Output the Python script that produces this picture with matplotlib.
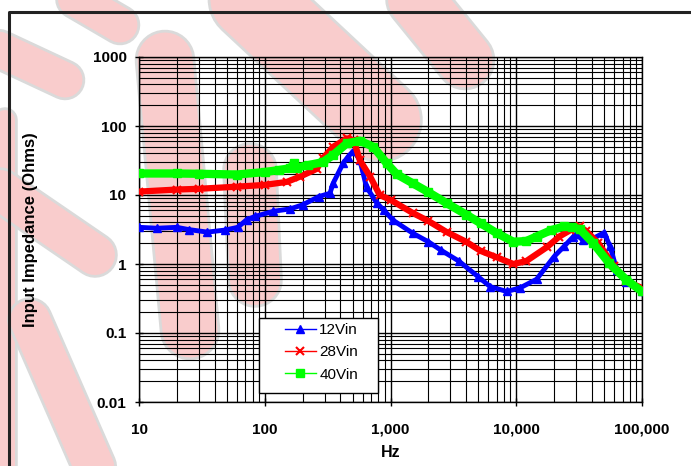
import matplotlib.pyplot as plt
import matplotlib.patheffects as pe
from matplotlib.lines import Line2D
from matplotlib.patches import Rectangle
from matplotlib.ticker import LogLocator, NullFormatter

plt.rcParams['font.family'] = ['Liberation Sans', 'DejaVu Sans']

# values (Hz, Ohms)
f_12 = [10, 14, 20, 25, 35, 48, 61, 72, 84, 117, 160, 200, 270, 330, 350, 420, 460,
        510, 570, 645, 780, 880, 1050, 1500, 2000, 2500, 3500, 5000, 6200, 8400,
        10700, 14500, 20000, 24000, 28500, 30000, 34000, 40000, 50000, 55700,
        63000, 75000, 100000]
z_12 = [3.4, 3.3, 3.4, 3.15, 2.9, 3.1, 3.4, 4.4, 4.9, 5.8, 6.3, 7.2, 9.5, 10.6, 14.8,
        28.8, 36, 44, 32, 13, 7.6, 6.1, 4.3, 2.8, 2.1, 1.6, 1.1, 0.65, 0.47, 0.40,
        0.45, 0.6, 1.28, 1.8, 2.5, 2.7, 2.2, 2.3, 2.85, 1.8, 0.82, 0.55, 0.41]

f_28 = [10, 20, 30, 60, 100, 150, 190, 260, 290, 350, 450, 510, 570, 690, 820, 1000,
        1500, 2000, 2800, 4000, 5200, 7000, 9500, 12000, 17500, 22000, 27000, 32000,
        36000, 45000, 60000, 75000, 100000]
z_28 = [11.2, 12, 12.3, 13.2, 14, 15.5, 18.4, 24, 34, 50, 66, 62, 32, 18.4, 10, 8.5,
        5.5, 4.2, 2.9, 2.1, 1.55, 1.25, 1.0, 1.1, 1.75, 2.5, 3.1, 3.5, 3.0, 2.0, 0.93,
        0.56, 0.45]

f_40 = [10, 20, 30, 60, 100, 130, 160, 170, 180, 220, 290, 350, 450, 570, 730, 930,
        1120, 1500, 2000, 2800, 4000, 5200, 7000, 9500, 12000, 14500, 19000, 24000,
        28000, 32000, 41000, 55000, 75000, 100000]
z_40 = [20.5, 20.5, 20.3, 19.8, 21.5, 23, 24.5, 29, 25, 27, 30, 38, 56, 61, 50, 29,
        20, 14.8, 11, 7.6, 5.2, 3.9, 2.8, 2.1, 2.15, 2.5, 3.1, 3.5, 3.4, 3.2, 2.0,
        1.02, 0.59, 0.4]

labels = ['12Vin', '28Vin', '40Vin']
x_ticks = [10, 100, 1000, 10000, 100000]
x_ticklabels = ['10', '100', '1,000', '10,000', '100,000']
y_ticks = [0.01, 0.1, 1, 10, 100, 1000]
y_ticklabels = ['0.01', '0.1', '1', '10', '100', '1000']

W, H = 691, 466
fig = plt.figure(figsize=(W / 100, H / 100), dpi=100)

# faint watermark behind the chart (pixel coords, top-left origin)
bg = fig.add_axes([0, 0, 1, 1], zorder=0)
bg.set_xlim(0, W)
bg.set_ylim(H, 0)
bg.axis('off')
bands = [
    ((230, -20), (380, 120), 80),
    ((400, -20), (465, 60), 55),
    ((60, -10), (120, 25), 35),
    ((-10, 45), (65, 80), 35),
    ((165, 60), (190, 330), 55),
    ((250, 170), (255, 280), 50),
    ((5, 120), (5, 480), 20),
    ((30, 320), (100, 480), 40),
    ((0, 190), (95, 255), 40),
]
for (x0, y0), (x1, y1), w in bands:
    lw = w * 0.72
    bg.plot([x0, x1], [y0, y1], color='#f9cccc', lw=lw, solid_capstyle='round',
            path_effects=[pe.Stroke(linewidth=lw + 4, foreground='#dadada'), pe.Normal()])

# outer chart frame
bg.plot([9, 9, 700], [480, 12, 12], color='#222222', lw=2.2, solid_capstyle='butt')

ax = fig.add_axes([139 / W, (H - 402) / H, 503 / W, 345 / H], zorder=1)
ax.patch.set_alpha(0)
ax.set_xscale('log')
ax.set_yscale('log')
ax.set_xlim(10, 100000)
ax.set_ylim(0.01, 1000)

ax.plot(f_12, z_12, color='#0000ff', lw=3.5, marker='^', ms=6, zorder=3)
ax.plot(f_28, z_28, color='#ff0000', lw=4.5, marker='x', ms=6, mew=1.5, zorder=4)
ax.plot(f_40, z_40, color='#00ff00', lw=6, marker='s', ms=6, zorder=5)

ax.xaxis.set_minor_locator(LogLocator(base=10, subs=range(2, 10), numticks=20))
ax.yaxis.set_minor_locator(LogLocator(base=10, subs=range(2, 10), numticks=20))
ax.xaxis.set_minor_formatter(NullFormatter())
ax.yaxis.set_minor_formatter(NullFormatter())
ax.set_xticks(x_ticks, x_ticklabels)
ax.set_yticks(y_ticks, y_ticklabels)
ax.grid(which='major', color='black', lw=1.0)
ax.grid(which='minor', color='black', lw=0.8)
ax.set_axisbelow(True)
ax.tick_params(which='major', direction='inout', length=6, width=1, labelsize=11)
ax.tick_params(axis='y', which='major', pad=6)
ax.tick_params(axis='x', which='major', pad=12)
ax.tick_params(which='minor', length=0)
for lab in ax.get_xticklabels() + ax.get_yticklabels():
    lab.set_fontweight('bold')
for s in ax.spines.values():
    s.set_color('black')
    s.set_linewidth(1)

ax.set_xlabel('Hz', fontsize=11.5, fontweight='bold', labelpad=6)
ax.set_ylabel('Input Impedance (Ohms)', fontsize=12, fontweight='bold')
ax.yaxis.set_label_coords((38 - 139) / 503, 0.5)

# legend box: frame drawn separately to get the wide right margin of the original
ax.add_patch(Rectangle((120 / 503, 9 / 345), 119 / 503, 75 / 345, transform=ax.transAxes,
                       facecolor='white', edgecolor='black', lw=1, zorder=6))
handles = [
    Line2D([], [], color='#0000ff', lw=1, marker='^', ms=6),
    Line2D([], [], color='#ff0000', lw=1, marker='x', ms=6, mew=1.5),
    Line2D([], [], color='#00ff00', lw=1, marker='s', ms=6),
]
leg = ax.legend(handles, labels, loc='upper left', bbox_to_anchor=(146 / 503, 79 / 345),
                borderaxespad=0, borderpad=0, frameon=False, fontsize=11,
                handlelength=2.0, handletextpad=0.25, labelspacing=0.55)
leg.set_zorder(7)

fig.savefig('out.png', dpi=100)
